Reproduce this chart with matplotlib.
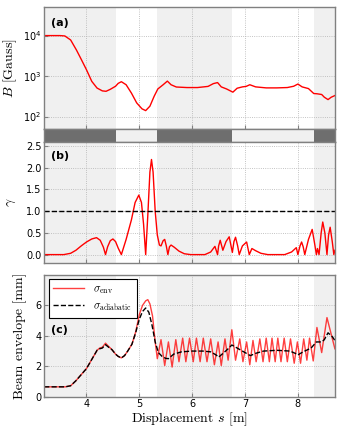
import matplotlib
matplotlib.use("Agg")
import matplotlib.pyplot as plt
import numpy as np

plt.rcParams['mathtext.fontset'] = 'cm'
plt.rcParams['font.size'] = 7

# shaded (solenoid) regions, in m
shade_regions = [(3.2, 4.55), (5.33, 6.75), (8.3, 8.7)]
clear_regions = [(4.55, 5.33), (6.75, 8.3)]

# (a) magnetic field
s_B = [3.2, 3.5, 3.59, 3.7, 3.81, 3.9, 4.0, 4.1, 4.2, 4.3, 4.37, 4.45, 4.55, 4.6,
       4.66, 4.75, 4.85, 4.95, 5.05, 5.12, 5.2, 5.28, 5.35, 5.45, 5.53, 5.6, 5.7,
       5.9, 6.1, 6.3, 6.4, 6.48, 6.55, 6.65, 6.77, 6.85, 6.95, 7.02, 7.09, 7.2,
       7.4, 7.6, 7.8, 7.92, 8.0, 8.08, 8.2, 8.3, 8.36, 8.45, 8.5, 8.57, 8.63, 8.7]
B = [1.0e4, 1.0e4, 9.8e3, 7.8e3, 4.4e3, 2.6e3, 1.43e3, 740, 505, 430, 420, 470, 560, 660,
     725, 610, 380, 217, 155, 140, 180, 316, 480, 610, 750, 610, 536,
     520, 520, 555, 650, 690, 540, 480, 400, 500, 540, 555, 610, 540,
     510, 510, 520, 560, 635, 540, 490, 370, 365, 350, 300, 262, 300, 330]

# (b) adiabaticity parameter
s_g = [3.2, 3.57, 3.7, 3.8, 3.9, 4.0, 4.1, 4.19, 4.26, 4.32, 4.36, 4.4, 4.45, 4.5,
       4.55, 4.6, 4.66, 4.75, 4.85, 4.92, 4.99, 5.04, 5.08, 5.12, 5.16, 5.2, 5.23,
       5.26, 5.3, 5.34, 5.38, 5.41, 5.45, 5.48, 5.51, 5.54, 5.57, 5.6, 5.66, 5.75,
       5.85, 5.97, 6.24, 6.35, 6.43, 6.48, 6.5, 6.53, 6.58, 6.64, 6.7, 6.76, 6.79,
       6.82, 6.86, 6.89, 6.95, 7.03, 7.08, 7.13, 7.2, 7.3, 7.43, 7.75, 7.88, 7.97,
       8.0, 8.04, 8.07, 8.1, 8.13, 8.2, 8.27, 8.31, 8.35, 8.37, 8.4, 8.44, 8.47,
       8.51, 8.55, 8.58, 8.61, 8.65, 8.68, 8.7]
gamma = [0.0, 0.0, 0.03, 0.1, 0.2, 0.29, 0.36, 0.39, 0.33, 0.17, 0.0, 0.18, 0.32, 0.36,
         0.3, 0.15, 0.0, 0.35, 0.8, 1.2, 1.37, 1.2, 0.7, 0.0, 0.9, 1.9, 2.19,
         1.9, 1.0, 0.45, 0.22, 0.2, 0.32, 0.35, 0.2, 0.0, 0.18, 0.22, 0.17, 0.08,
         0.02, 0.0, 0.0, 0.06, 0.19, 0.0, 0.2, 0.33, 0.1, 0.3, 0.41, 0.05, 0.3,
         0.4, 0.2, 0.0, 0.2, 0.29, 0.0, 0.14, 0.09, 0.03, 0.0, 0.0, 0.06, 0.16,
         0.0, 0.2, 0.29, 0.18, 0.0, 0.35, 0.58, 0.3, 0.0, 0.14, 0.0, 0.5, 0.75,
         0.5, 0.0, 0.45, 0.63, 0.3, 0.0, 0.1]

# (c) beam envelope
s_env = [3.2, 3.6, 3.7, 3.8, 3.9, 4.0, 4.1, 4.2, 4.25, 4.3, 4.36, 4.42, 4.48, 4.55,
         4.6, 4.66, 4.72, 4.78, 4.86, 4.93, 5.0, 5.06, 5.12, 5.16, 5.2, 5.25, 5.3,
         5.34, 5.41, 5.48, 5.55, 5.62, 5.69, 5.75, 5.82, 5.88, 5.95, 6.02, 6.08,
         6.15, 6.21, 6.28, 6.35, 6.42, 6.49, 6.55, 6.62, 6.68, 6.75, 6.82, 6.9,
         6.96, 7.03, 7.09, 7.15, 7.21, 7.28, 7.34, 7.4, 7.46, 7.51, 7.57, 7.62,
         7.68, 7.74, 7.8, 7.86, 7.93, 7.99, 8.05, 8.11, 8.17, 8.22, 8.29, 8.36,
         8.45, 8.55, 8.7]
sigma_env = [0.65, 0.65, 0.72, 1.05, 1.45, 1.85, 2.45, 3.05, 3.2, 3.25, 3.52, 3.3, 3.1, 2.8,
             2.65, 2.55, 2.7, 3.0, 3.45, 4.25, 5.4, 6.0, 6.3, 6.38, 6.1, 5.3, 3.6,
             2.5, 3.75, 2.05, 3.6, 1.95, 3.75, 2.3, 3.85, 2.3, 3.85, 2.3, 3.85,
             2.3, 3.85, 2.3, 3.8, 2.1, 3.6, 2.05, 3.8, 2.4, 4.4, 2.4, 3.8,
             2.3, 3.6, 2.1, 3.7, 2.3, 3.8, 2.3, 3.85, 2.3, 3.85, 2.3, 3.85,
             2.3, 3.85, 2.3, 3.8, 2.2, 3.6, 2.2, 3.8, 2.4, 3.85, 2.35, 4.55,
             2.9, 5.2, 3.15]

s_ad = [3.2, 3.6, 3.7, 3.8, 3.9, 4.0, 4.1, 4.2, 4.25, 4.3, 4.36, 4.42, 4.48, 4.55,
        4.6, 4.66, 4.72, 4.78, 4.86, 4.93, 5.0, 5.06, 5.12, 5.18, 5.24, 5.3, 5.36,
        5.43, 5.5, 5.55, 5.65, 5.8, 6.0, 6.2, 6.35, 6.45, 6.5, 6.6, 6.68, 6.75,
        6.85, 6.95, 7.05, 7.1, 7.2, 7.35, 7.6, 7.85, 7.95, 8.0, 8.1, 8.25, 8.35,
        8.45, 8.5, 8.57, 8.65, 8.7]
sigma_ad = [0.65, 0.65, 0.72, 1.05, 1.45, 1.85, 2.45, 3.05, 3.15, 3.2, 3.42, 3.25, 3.1, 2.8,
            2.65, 2.55, 2.7, 3.0, 3.45, 4.2, 5.1, 5.6, 5.83, 5.55, 4.7, 3.6, 2.9,
            2.65, 2.52, 2.5, 2.8, 2.95, 3.0, 3.0, 2.95, 2.75, 2.6, 2.9, 3.15, 3.4,
            3.2, 3.0, 2.8, 2.7, 2.85, 3.0, 3.05, 3.0, 2.85, 2.75, 2.95, 3.2, 3.6,
            3.6, 3.75, 4.2, 3.95, 3.7]

grid_kw = dict(color='#b0b0b0', linestyle=':', linewidth=0.6)
label_font = 'cmr10'


def style_axes(ax):
    ax.set_xlim(3.2, 8.7)
    for lo, hi in shade_regions:
        ax.axvspan(lo, hi, color='#f0f0f0', lw=0, zorder=0)
    ax.grid(True, which='major', **grid_kw)
    ax.set_axisbelow(True)
    for sp in ax.spines.values():
        sp.set_color('#808080')
        sp.set_linewidth(1.0)
    ax.tick_params(direction='in', length=3, color='#808080', labelsize=7, pad=2)
    ax.set_xticks([4, 5, 6, 7, 8])


fig = plt.figure(figsize=(3.4, 4.3), dpi=100)
L, W = 0.130, 0.855

ax_a = fig.add_axes([L, 0.7007, W, 0.2823])
ax_s = fig.add_axes([L, 0.6705, W, 0.0302])
ax_b = fig.add_axes([L, 0.3877, W, 0.2828])
ax_c = fig.add_axes([L, 0.0774, W, 0.2831])

# (a)
style_axes(ax_a)
ax_a.semilogy(s_B, B, color='red', lw=1.0)
ax_a.set_ylim(50, 5.0e4)
ax_a.minorticks_off()
ax_a.set_yticks([1e2, 1e3, 1e4])
ax_a.set_xticklabels([])
ax_a.set_ylabel(r'$B$ [Gauss]', fontsize=10, family=label_font, labelpad=3)
ax_a.text(0.025, 0.87, '(a)', transform=ax_a.transAxes, fontsize=8,
          fontweight='bold', va='center')

# strip of solenoid blocks
ax_s.set_xlim(3.2, 8.7)
ax_s.set_ylim(0, 1)
for lo, hi in shade_regions:
    ax_s.axvspan(lo, hi, color='#6e6e6e', lw=0)
for lo, hi in clear_regions:
    ax_s.axvspan(lo, hi, color='#f0f0f0', lw=0)
ax_s.set_xticks([])
ax_s.set_yticks([])
for sp in ax_s.spines.values():
    sp.set_color('#808080')
    sp.set_linewidth(1.0)

# (b)
style_axes(ax_b)
ax_b.plot(s_g, gamma, color='red', lw=1.0)
ax_b.axhline(1.0, color='black', ls='--', lw=1.0)
ax_b.set_ylim(-0.2, 2.6)
ax_b.set_yticks([0.0, 0.5, 1.0, 1.5, 2.0, 2.5])
ax_b.set_xticklabels([])
ax_b.set_ylabel(r'$\gamma$', fontsize=10, labelpad=6)
ax_b.text(0.025, 0.88, '(b)', transform=ax_b.transAxes, fontsize=8,
          fontweight='bold', va='center')

# (c)
style_axes(ax_c)
ax_c.plot(s_env, sigma_env, color='red', lw=1.0, alpha=0.75,
          label=r'$\sigma_{\rm env}$')
ax_c.plot(s_ad, sigma_ad, color='black', ls='--', lw=1.0,
          label=r'$\sigma_{\rm adiabatic}$')
ax_c.set_ylim(0, 8)
ax_c.set_yticks([0, 2, 4, 6])
ax_c.set_ylabel('Beam envelope [mm]', fontsize=10, family=label_font, labelpad=6)
ax_c.set_xlabel(r'Displacement $s$ [m]', fontsize=10, family=label_font, labelpad=1)
ax_c.text(0.025, 0.55, '(c)', transform=ax_c.transAxes, fontsize=8,
          fontweight='bold', va='center')
leg = ax_c.legend(loc='upper left', fontsize=8, fancybox=False, framealpha=1,
                  edgecolor='black', borderaxespad=0.4, handlelength=2.8)
leg.get_frame().set_linewidth(0.8)

fig.savefig('out.png', dpi=100)
